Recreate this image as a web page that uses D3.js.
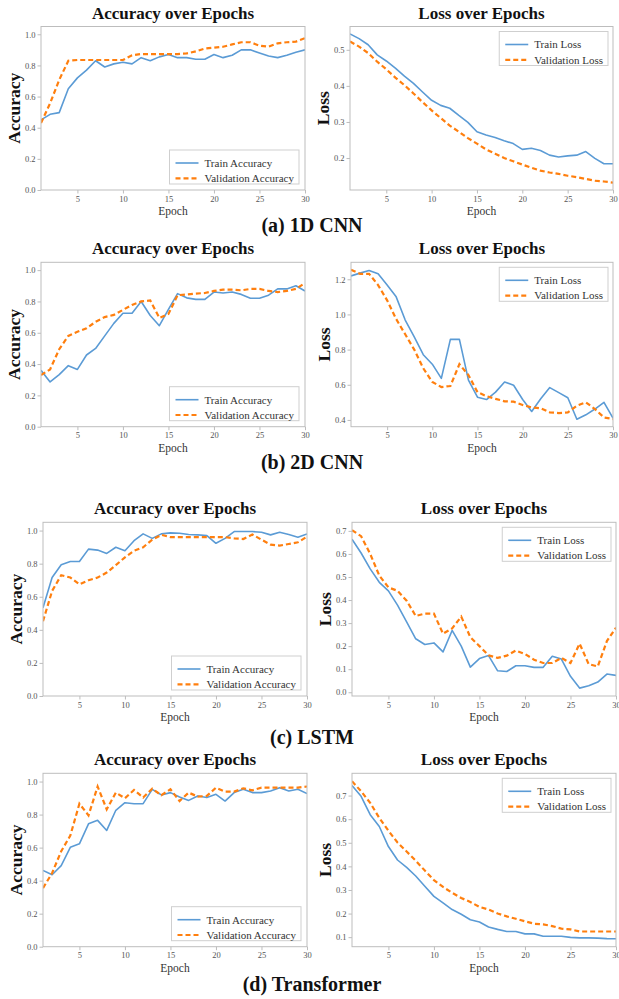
<!DOCTYPE html>
<html>
<head>
<meta charset="utf-8">
<script src="https://cdn.jsdelivr.net/npm/d3@7"></script>
<style>
  body { margin: 0; background: #fff; }
  svg { display: block; }
  text { font-family: "Liberation Serif", "Times New Roman", serif; }
</style>
</head>
<body>
<div id="chart"></div>
<script>
// ---- data ----
const epochs = [1,2,3,4,5,6,7,8,9,10,11,12,13,14,15,16,17,18,19,20,21,22,23,24,25,26,27,28,29,30];
const xTicks = [5, 10, 15, 20, 25, 30];
const accTicks = [0.0, 0.2, 0.4, 0.6, 0.8, 1.0];
const cnn1dLossTicks = [0.2, 0.3, 0.4, 0.5];
const cnn2dLossTicks = [0.4, 0.6, 0.8, 1.0, 1.2];
const lstmLossTicks = [0.0, 0.1, 0.2, 0.3, 0.4, 0.5, 0.6, 0.7];
const transformerLossTicks = [0.1, 0.2, 0.3, 0.4, 0.5, 0.6, 0.7];
const captions = ["(a) 1D CNN", "(b) 2D CNN", "(c) LSTM", "(d) Transformer"];

const cnn1dTrainAcc = [0.45,0.486,0.497,0.65,0.72,0.77,0.83,0.79,0.81,0.82,0.81,0.85,0.83,0.855,0.87,0.85,0.85,0.84,0.84,0.87,0.85,0.865,0.90,0.90,0.88,0.86,0.85,0.865,0.885,0.90];
const cnn1dValAcc = [0.43,0.557,0.707,0.83,0.835,0.835,0.835,0.835,0.835,0.835,0.865,0.873,0.873,0.873,0.873,0.873,0.877,0.89,0.908,0.914,0.92,0.935,0.949,0.949,0.927,0.92,0.942,0.949,0.953,0.975];
const cnn1dTrainLoss = [0.544,0.531,0.514,0.486,0.469,0.449,0.427,0.407,0.383,0.36,0.346,0.338,0.318,0.299,0.273,0.264,0.257,0.248,0.24,0.224,0.227,0.221,0.208,0.203,0.206,0.208,0.218,0.199,0.184,0.184];
const cnn1dValLoss = [0.523,0.509,0.491,0.467,0.446,0.423,0.402,0.379,0.355,0.332,0.311,0.29,0.273,0.255,0.24,0.224,0.212,0.20,0.191,0.182,0.173,0.165,0.16,0.156,0.151,0.147,0.142,0.137,0.135,0.132];

const cnn2dTrainAcc = [0.36,0.286,0.333,0.39,0.366,0.458,0.50,0.58,0.66,0.725,0.725,0.80,0.71,0.645,0.75,0.85,0.823,0.813,0.813,0.86,0.854,0.86,0.845,0.82,0.82,0.84,0.88,0.88,0.90,0.867];
const cnn2dValAcc = [0.33,0.366,0.495,0.58,0.606,0.628,0.67,0.70,0.714,0.746,0.778,0.80,0.806,0.695,0.72,0.84,0.845,0.85,0.854,0.867,0.875,0.875,0.871,0.88,0.88,0.867,0.86,0.867,0.88,0.918];
const cnn2dTrainLoss = [1.219,1.235,1.25,1.231,1.167,1.10,0.968,0.872,0.771,0.717,0.636,0.858,0.858,0.626,0.529,0.516,0.558,0.616,0.597,0.516,0.448,0.52,0.584,0.555,0.526,0.404,0.429,0.462,0.50,0.41];
const cnn2dValLoss = [1.254,1.231,1.231,1.167,1.08,0.974,0.887,0.80,0.694,0.616,0.587,0.593,0.717,0.655,0.558,0.535,0.52,0.506,0.504,0.485,0.471,0.466,0.443,0.439,0.443,0.481,0.50,0.462,0.414,0.405];

const lstmTrainAcc = [0.533,0.716,0.793,0.813,0.813,0.888,0.882,0.862,0.899,0.878,0.939,0.98,0.953,0.98,0.986,0.984,0.976,0.974,0.97,0.923,0.953,0.994,0.994,0.994,0.99,0.974,0.99,0.976,0.96,0.98];
const lstmValAcc = [0.452,0.635,0.73,0.716,0.675,0.70,0.716,0.746,0.791,0.838,0.878,0.899,0.945,0.974,0.96,0.96,0.96,0.96,0.96,0.96,0.96,0.953,0.949,0.976,0.945,0.915,0.909,0.919,0.929,0.963];
const lstmTrainLoss = [0.664,0.604,0.535,0.477,0.44,0.378,0.305,0.232,0.207,0.214,0.175,0.268,0.20,0.109,0.146,0.159,0.093,0.09,0.115,0.115,0.108,0.108,0.156,0.144,0.069,0.018,0.028,0.044,0.079,0.073];
const lstmValLoss = [0.703,0.677,0.60,0.506,0.455,0.44,0.397,0.331,0.341,0.341,0.254,0.277,0.328,0.239,0.20,0.16,0.149,0.159,0.181,0.166,0.141,0.127,0.127,0.149,0.127,0.211,0.122,0.112,0.222,0.28];

const transformerTrainAcc = [0.462,0.436,0.491,0.602,0.623,0.744,0.765,0.704,0.826,0.872,0.866,0.866,0.953,0.919,0.933,0.907,0.886,0.913,0.903,0.923,0.882,0.933,0.953,0.933,0.933,0.943,0.963,0.943,0.953,0.927];
const transformerValAcc = [0.355,0.446,0.578,0.673,0.866,0.795,0.97,0.832,0.933,0.899,0.949,0.903,0.957,0.917,0.953,0.882,0.933,0.909,0.913,0.963,0.939,0.939,0.959,0.947,0.963,0.963,0.963,0.963,0.963,0.97];
const transformerTrainLoss = [0.743,0.697,0.619,0.569,0.484,0.427,0.396,0.359,0.316,0.273,0.245,0.217,0.197,0.174,0.164,0.143,0.133,0.124,0.124,0.114,0.114,0.104,0.104,0.104,0.099,0.097,0.097,0.096,0.094,0.093];
const transformerValLoss = [0.761,0.718,0.669,0.605,0.551,0.501,0.463,0.424,0.382,0.342,0.313,0.288,0.266,0.249,0.228,0.217,0.20,0.188,0.178,0.167,0.157,0.154,0.147,0.136,0.133,0.124,0.124,0.124,0.124,0.124];

// ---- layout ----
const W = 619, H = 999;
const trainColor = "#5b9bd5";
const valColor = "#ff7f0e";
const frameColor = "#bdbdbd";

// frame top/bottom per row, left/right plot x ranges, caption baseline
const rows = [
  { top: 26.5, bottom: 190, caption: 232, cols: [[41, 305], [350, 613]] },
  { top: 262.3, bottom: 426.7, caption: 469, cols: [[41, 305], [351, 613]] },
  { top: 522.3, bottom: 696, caption: 744, cols: [[43, 307], [352, 616]] },
  { top: 773.3, bottom: 946.7, caption: 991, cols: [[43, 307], [352, 616]] }
];

const panels = [
  [cnn1dTrainAcc, cnn1dValAcc, cnn1dTrainLoss, cnn1dValLoss, cnn1dLossTicks],
  [cnn2dTrainAcc, cnn2dValAcc, cnn2dTrainLoss, cnn2dValLoss, cnn2dLossTicks],
  [lstmTrainAcc, lstmValAcc, lstmTrainLoss, lstmValLoss, lstmLossTicks],
  [transformerTrainAcc, transformerValAcc, transformerTrainLoss, transformerValLoss, transformerLossTicks]
];

const svg = d3.select("#chart").append("svg")
  .attr("width", W)
  .attr("height", H);

function padDomain(a, b) {
  const ext = d3.extent(a.concat(b));
  const pad = (ext[1] - ext[0]) * 0.05;
  return [ext[0] - pad, ext[1] + pad];
}

function drawPanel(row, cols, opts) {
  const g = svg.append("g");
  const x = d3.scaleLinear().domain([1, 30]).range(cols);
  const y = d3.scaleLinear().domain(opts.domain).range([row.bottom, row.top]);

  // title
  g.append("text")
    .attr("x", (cols[0] + cols[1]) / 2)
    .attr("y", row.top - 8)
    .attr("text-anchor", "middle")
    .attr("font-size", 17)
    .attr("font-weight", "bold")
    .attr("fill", "#111")
    .text(opts.title);

  // x axis
  const xAxis = g.append("g")
    .attr("transform", `translate(0,${row.bottom})`)
    .call(d3.axisBottom(x).tickValues(xTicks).tickSize(3.5).tickPadding(2));
  xAxis.select(".domain").remove();

  // y axis
  const yAxis = g.append("g")
    .attr("transform", `translate(${cols[0]},0)`)
    .call(d3.axisLeft(y).tickValues(opts.ticks).tickFormat(d3.format(".1f")).tickSize(3.5).tickPadding(2));
  yAxis.select(".domain").remove();

  g.selectAll(".tick line").attr("stroke", frameColor);
  g.selectAll(".tick text")
    .attr("font-family", "'Liberation Serif', serif")
    .attr("font-size", 8.5)
    .attr("fill", "#555");

  // axis labels
  g.append("text")
    .attr("x", (cols[0] + cols[1]) / 2)
    .attr("y", row.bottom + 25)
    .attr("text-anchor", "middle")
    .attr("font-size", 11.5)
    .attr("fill", "#333")
    .text("Epoch");

  g.append("text")
    .attr("transform", `translate(${cols[0] - 27},${(row.top + row.bottom) / 2}) rotate(-90)`)
    .attr("dy", "0.35em")
    .attr("text-anchor", "middle")
    .attr("font-size", 17.5)
    .attr("font-weight", "bold")
    .attr("fill", "#111")
    .text(opts.ylabel);

  // lines
  const line = d3.line()
    .x((d, i) => x(epochs[i]))
    .y(d => y(d));

  const clipId = "clip" + Math.round(row.top) + "_" + Math.round(cols[0]);
  g.append("clipPath").attr("id", clipId)
    .append("rect")
    .attr("x", cols[0]).attr("y", row.top)
    .attr("width", cols[1] - cols[0]).attr("height", row.bottom - row.top);

  const lines = g.append("g").attr("clip-path", `url(#${clipId})`);
  lines.append("path")
    .datum(opts.train)
    .attr("d", line)
    .attr("fill", "none")
    .attr("stroke", trainColor)
    .attr("stroke-width", 1.6)
    .attr("stroke-linejoin", "round");
  lines.append("path")
    .datum(opts.val)
    .attr("d", line)
    .attr("fill", "none")
    .attr("stroke", valColor)
    .attr("stroke-width", 2.2)
    .attr("stroke-dasharray", "5,3");

  // frame
  g.append("rect")
    .attr("x", cols[0]).attr("y", row.top)
    .attr("width", cols[1] - cols[0]).attr("height", row.bottom - row.top)
    .attr("fill", "none")
    .attr("stroke", frameColor)
    .attr("stroke-width", 1);

  // legend
  const leg = g.append("g");
  const box = leg.append("rect")
    .attr("fill", "#fff")
    .attr("stroke", "#cfcfcf")
    .attr("stroke-width", 1);
  const items = [[opts.trainLabel, trainColor, null, 1.6], [opts.valLabel, valColor, "5,3", 2.2]];
  let maxW = 0;
  items.forEach((it, i) => {
    leg.append("line")
      .attr("x1", 6).attr("x2", 29)
      .attr("y1", 10 + i * 15.3).attr("y2", 10 + i * 15.3)
      .attr("stroke", it[1])
      .attr("stroke-width", it[3])
      .attr("stroke-dasharray", it[2]);
    const t = leg.append("text")
      .attr("x", 35)
      .attr("y", 10 + i * 15.3)
      .attr("dy", "0.35em")
      .attr("font-size", 11)
      .attr("fill", "#333")
      .text(it[0]);
    maxW = Math.max(maxW, t.node().getComputedTextLength());
  });
  const bw = 35 + maxW + 5, bh = 34;
  box.attr("x", 0).attr("y", -3).attr("width", bw).attr("height", bh);
  if (opts.legend === "lr") {
    leg.attr("transform", `translate(${cols[1] - 6 - bw},${row.bottom - 6 - bh + 3})`);
  } else {
    leg.attr("transform", `translate(${cols[1] - 5 - bw},${row.top + 8})`);
  }
}

rows.forEach((row, r) => {
  const p = panels[r];
  drawPanel(row, row.cols[0], {
    title: "Accuracy over Epochs",
    ylabel: "Accuracy",
    train: p[0], val: p[1],
    domain: [0, 1.05],
    ticks: accTicks,
    trainLabel: "Train Accuracy",
    valLabel: "Validation Accuracy",
    legend: "lr"
  });
  drawPanel(row, row.cols[1], {
    title: "Loss over Epochs",
    ylabel: "Loss",
    train: p[2], val: p[3],
    domain: padDomain(p[2], p[3]),
    ticks: p[4],
    trainLabel: "Train Loss",
    valLabel: "Validation Loss",
    legend: "ur"
  });
  svg.append("text")
    .attr("x", 312)
    .attr("y", row.caption)
    .attr("text-anchor", "middle")
    .attr("font-size", 20)
    .attr("font-weight", "bold")
    .attr("fill", "#111")
    .text(captions[r]);
});
</script>
</body>
</html>
